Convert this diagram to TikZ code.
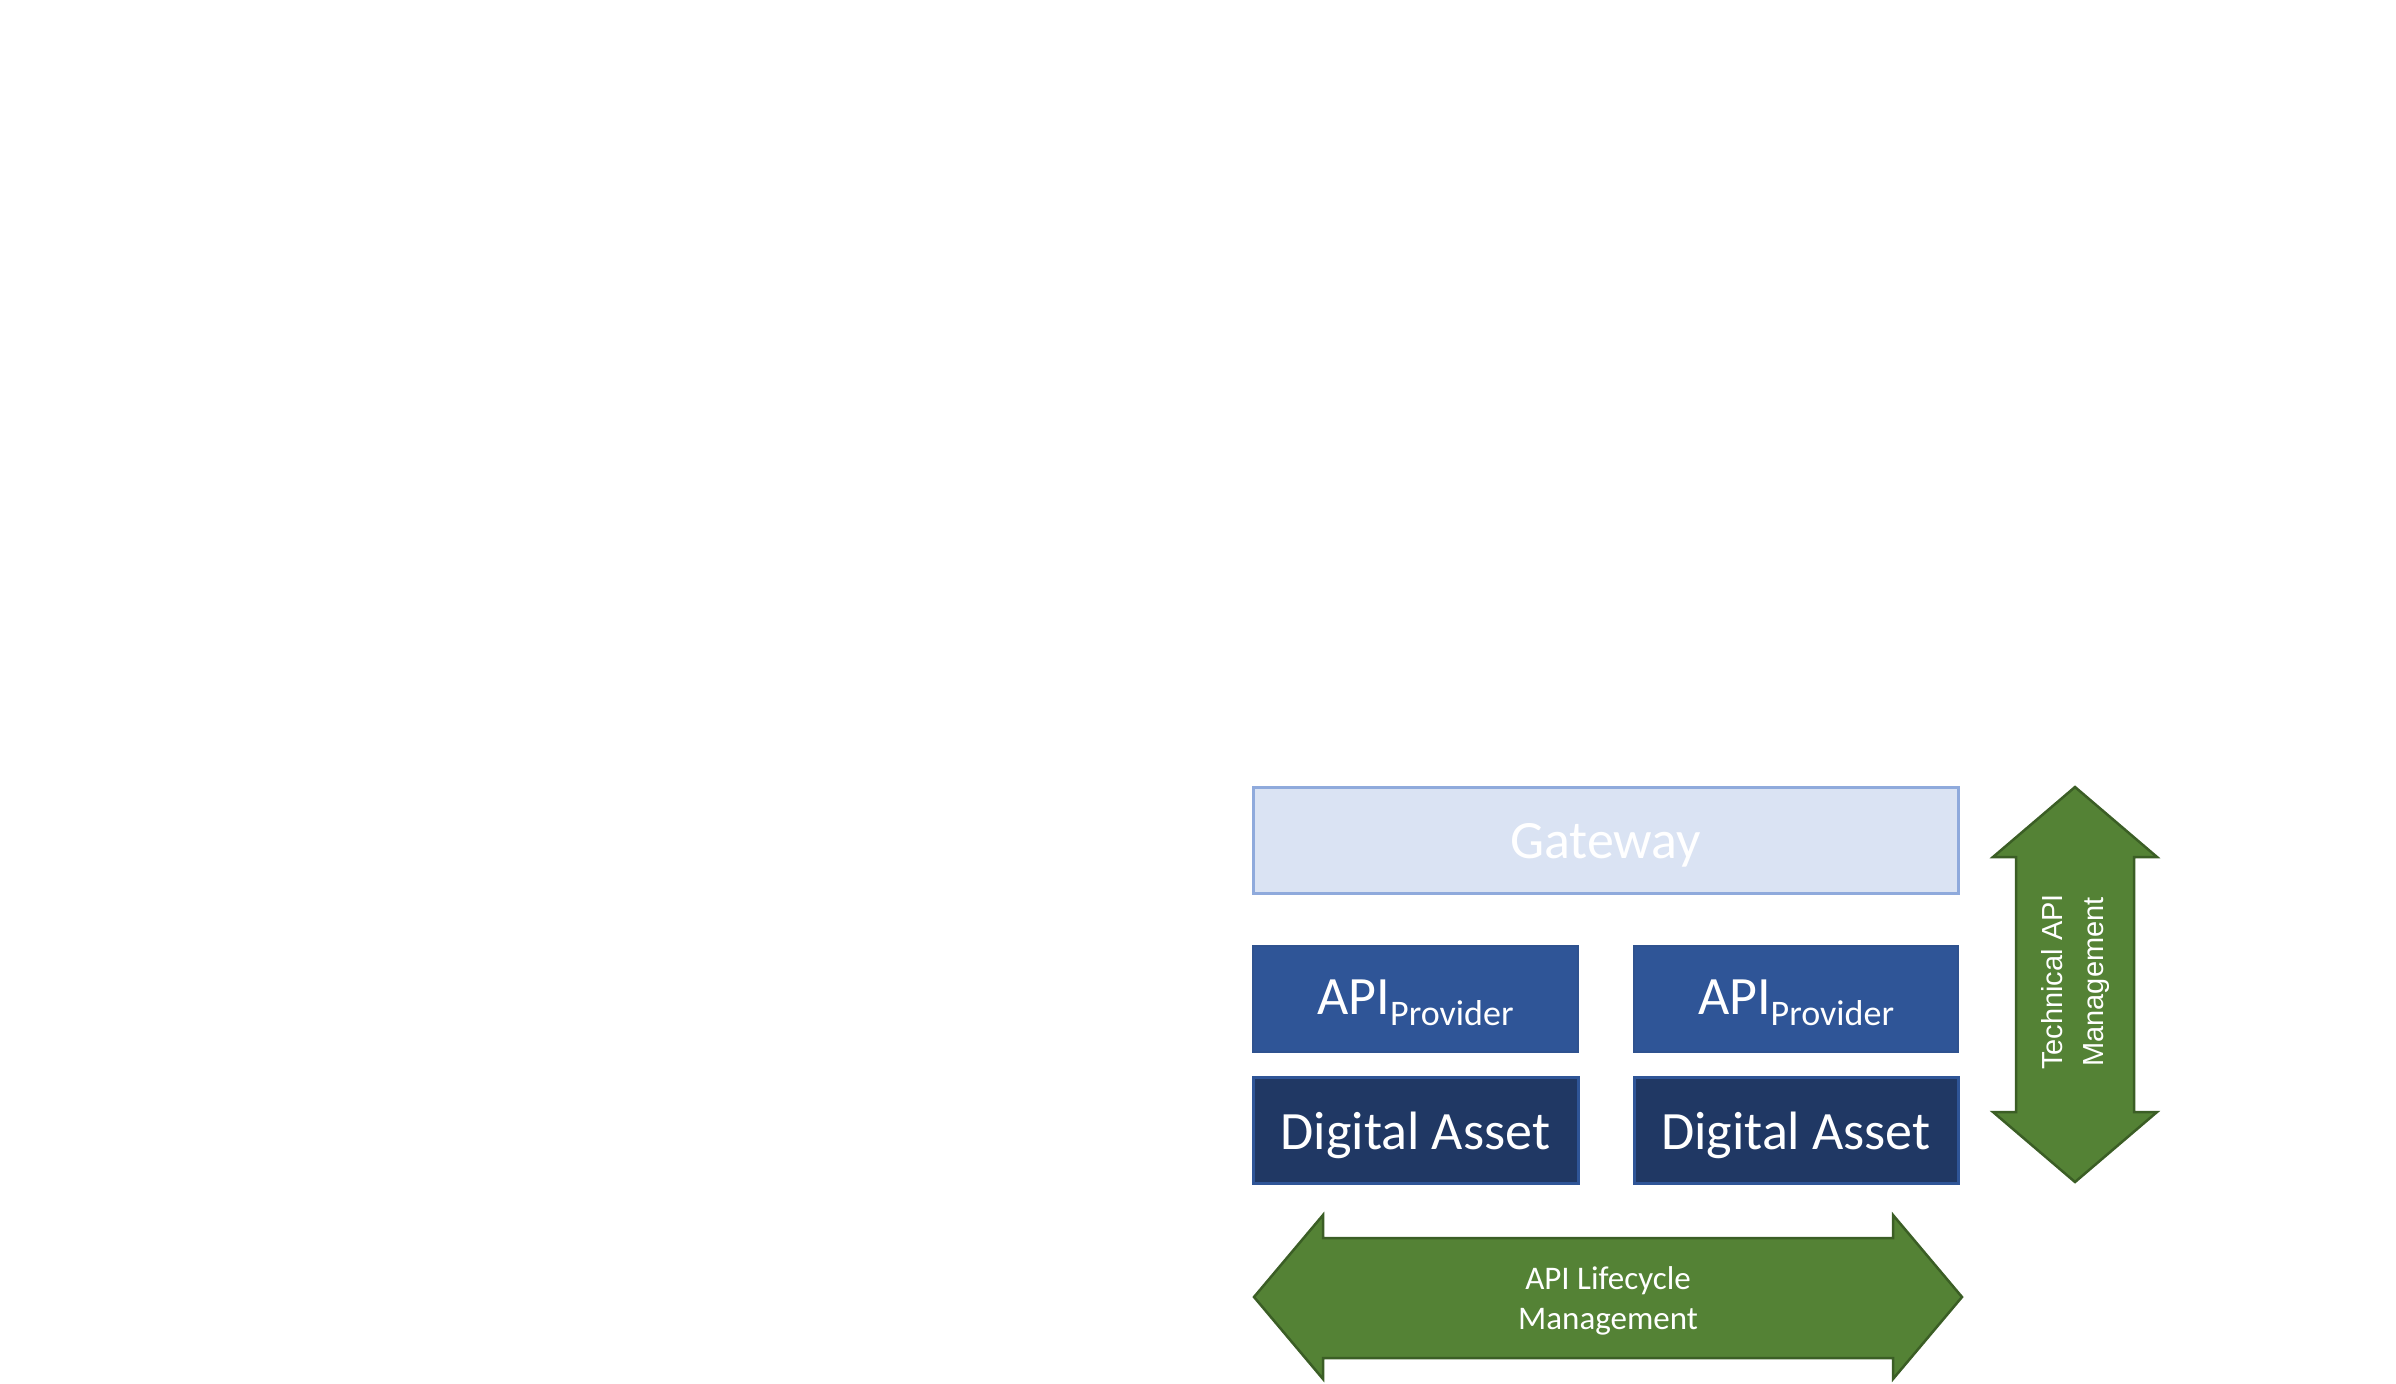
\documentclass[tikz,border=0pt]{standalone}
\usepackage{fontspec}
\setmainfont{Carlito}
\newfontfamily\arialfont{Liberation Sans}
\definecolor{gwfill}{HTML}{DAE3F3}
\definecolor{gwline}{HTML}{8FAADC}
\definecolor{apifill}{HTML}{2F5597}
\definecolor{apiline}{HTML}{2F528F}
\definecolor{dafill}{HTML}{203864}
\definecolor{daline}{HTML}{2F5597}
\definecolor{grfill}{HTML}{548235}
\definecolor{grline}{HTML}{3B5E25}
\begin{document}
\begin{tikzpicture}[x=1pt,y=-1pt,
  bigtext/.style={text=white,font=\fontsize{54}{60}\selectfont},
  gwbox/.style={draw=gwline,fill=gwfill,line width=3pt},
  apibox/.style={draw=apiline,fill=apifill,line width=2pt},
  dabox/.style={draw=daline,fill=dafill,line width=3pt},
  grarrow/.style={draw=grline,fill=grfill,line width=2.5pt,line join=miter}]
\useasboundingbox (0,0) rectangle (2396,1384);
% boxes
\draw[gwbox] (1253,787) rectangle (1958,893);
\node[bigtext] (gw) at (1605.5,845) {Gateway};
\draw[apibox] (1253,946) rectangle (1578,1052);
\node[bigtext] (api1) at (1415.5,1003) {API\raisebox{-11pt}{\fontsize{36}{36}\selectfont Provider}};
\draw[apibox] (1634,946) rectangle (1958,1052);
\node[bigtext] (api2) at (1796,1003) {API\raisebox{-11pt}{\fontsize{36}{36}\selectfont Provider}};
\draw[dabox] (1253,1077) rectangle (1578,1183);
\node[bigtext] (da1) at (1415.5,1135) {Digital Asset};
\draw[dabox] (1634,1077) rectangle (1958,1183);
\node[bigtext] (da2) at (1796,1135) {Digital Asset};
% horizontal double arrow
\draw[grarrow] (1254,1297) -- (1323,1215) -- (1323,1238) -- (1893,1238) -- (1893,1215)
  -- (1962,1297) -- (1893,1379) -- (1893,1358) -- (1323,1358) -- (1323,1379) -- cycle;
\node[text=white,align=center,font=\fontsize{33}{40}\selectfont] (lcm) at (1608,1301)
  {API Lifecycle\\Management};
% vertical double arrow
\draw[grarrow] (2075,787) -- (2157,857) -- (2134,857) -- (2134,1112) -- (2157,1112)
  -- (2075,1182) -- (1993,1112) -- (2016,1112) -- (2016,857) -- (1993,857) -- cycle;
\node[text=white,align=center,rotate=90,font=\arialfont\fontsize{29}{41}\selectfont] (tam) at (2075,982)
  {Technical API\\Management};
\end{tikzpicture}
\end{document}
